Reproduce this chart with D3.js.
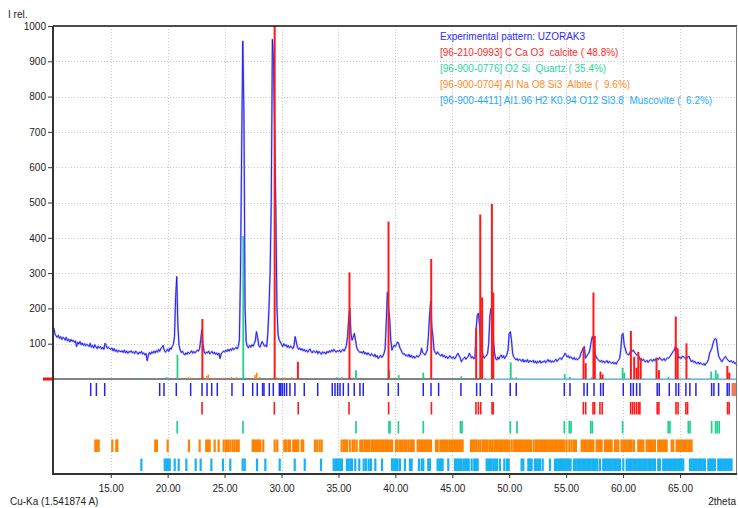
<!DOCTYPE html>
<html><head><meta charset="utf-8">
<script src="https://cdn.jsdelivr.net/npm/d3@7"></script>
<style>
body{margin:0;background:#fff}
svg{display:block;font-family:"Liberation Sans",Arial,sans-serif}
</style>
</head><body><svg id="c" width="738" height="508"></svg>
<script>
// ---------- DATA ----------
const thetaStart = 10.0, thetaStep = 0.1;
// experimental pattern, 2theta 10.0 .. 70.0 step 0.1 (one row per degree)
const intensity = [
145,128,122,118,124,115,120,112,118,116,
110,118,108,113,105,112,107,110,104,108,
92,104,99,106,97,102,95,100,94,98,
96,92,101,90,95,88,97,91,86,93,
88,92,85,90,84,101,95,87,90,86,
84,88,80,86,78,83,76,81,79,77,
80,75,82,74,79,73,78,76,80,74,
77,72,79,75,70,76,73,78,71,74,
68,72,52,66,75,70,77,73,79,74,
80,76,84,78,86,90,95,82,76,79,
85,78,88,84,92,98,120,230,290,150,
96,82,75,79,72,68,74,70,76,72,
75,80,73,78,74,77,82,79,85,110,
139,100,78,72,76,74,79,71,75,78,
72,76,70,74,68,73,58,71,75,79,
76,82,78,84,79,85,81,88,83,86,
90,85,92,110,300,650,957,753,200,105,
92,88,95,90,97,93,100,108,134,118,
95,90,98,106,100,93,96,91,130,200,
300,500,962,900,700,488,200,125,110,105,
98,92,100,94,97,90,95,88,93,90,
86,95,120,105,90,84,88,82,86,80,
84,78,82,76,80,85,78,74,80,77,
75,80,72,78,74,70,77,73,76,71,
78,74,80,76,82,78,84,79,76,80,
78,82,76,80,84,79,86,95,120,170,
200,130,110,118,129,110,90,82,78,75,
77,73,79,71,75,69,74,70,66,72,
68,64,70,62,66,58,63,67,61,65,
72,85,158,245,200,172,110,82,90,96,
92,98,105,100,88,82,75,70,72,66,
68,64,70,62,67,60,65,59,63,66,
62,66,70,87,75,72,68,74,82,120,
177,219,148,120,82,75,70,77,72,68,
65,70,63,67,60,64,58,62,66,60,
59,63,57,61,68,73,66,60,49,55,
58,62,56,60,64,73,66,59,63,57,
62,144,181,186,150,110,82,66,59,64,
66,72,101,177,200,162,115,77,58,54,
62,56,64,68,60,66,58,63,70,82,
129,134,110,73,62,59,54,58,52,56,
54,50,56,48,53,49,55,47,52,50,
49,53,46,51,44,50,47,52,45,49,
48,52,46,50,55,49,53,47,51,48,
52,56,50,54,58,59,55,62,66,73,
68,62,66,59,63,59,56,61,55,58,
54,58,62,73,80,87,92,59,64,70,
73,85,106,120,110,77,66,59,55,52,
49,53,47,51,46,49,52,45,50,47,
44,48,43,47,42,49,53,58,82,125,
129,96,85,73,70,68,75,82,78,82,
76,72,68,70,64,54,58,52,56,50,
49,53,47,51,55,54,50,56,52,58,
59,55,61,57,53,54,58,52,56,60,
59,63,68,73,78,82,92,87,70,59,
62,58,64,64,60,57,59,63,64,55,
49,53,47,50,45,44,48,42,46,43,
40,44,39,44,48,55,73,80,87,101,
110,115,112,85,64,58,52,49,56,60,
64,58,54,51,49,52,47,50,44,46,
38];

// calcite reference lines
const calcitePos = [23.05,29.40,31.44,35.97,39.40,43.15,47.10,47.46,47.62,48.48,48.60,56.53,56.72,57.40,57.52,58.02,58.20,60.69,60.98,61.19,61.34,61.55,62.94,63.15,64.63,64.80,65.57,69.16,69.33];
const calciteInt = [170,1000,49,302,446,340,144,466,231,496,245,90,45,245,122,21,13,136,63,32,77,59,59,25,177,87,101,37,18];
// quartz reference lines
const quartzPos = [20.86,26.64,36.54,39.47,40.29,42.45,45.79,50.14,50.62,54.87,55.33,57.24,59.96,60.10,63.99,65.79,67.74,68.14,68.31];
const quartzInt = [68,405,25,25,11,18,8,47,5,14,6,5,32,18,6,3,21,25,15];
// albite small reference lines
const albitePos = [13.77,15.37,19.04,20.06,21.81,21.96,23.13,23.43,23.57,24.10,25.60,26.06,27.67,27.82,28.10,29.60,30.30,30.89,35.30,36.30,42.50,47.90,50.30];
const albiteInt = [2,2,3,3,5,4,5,8,12,4,6,5,11,18,6,5,4,5,6,4,5,3,4];
// muscovite small reference lines
const muscovitePos = [17.70,19.80,19.95,26.80,34.85,35.00,36.50,45.00];
const muscoviteInt = [3,4,5,4,5,3,3,2];
const muscoviteBand = [47.5, 70.0];

// peak marker rows
const expTicks = [13.24,13.74,14.47,19.30,19.68,20.76,22.02,23.02,23.46,23.87,24.36,25.65,26.64,27.47,27.87,28.34,28.46,28.93,29.28,29.81,29.93,30.07,30.25,30.45,30.74,31.18,32.00,33.18,34.46,34.70,34.93,35.14,35.43,35.87,36.39,36.89,37.18,39.38,40.26,42.45,43.13,43.80,45.76,47.14,47.46,48.46,50.09,50.62,54.84,55.34,56.57,56.86,57.45,58.03,58.26,60.02,60.67,60.90,61.19,61.48,63.00,63.18,64.06,64.65,64.88,65.52,65.87,66.40,67.78,67.98,68.39,69.15,69.32];
const calciteTicks = [23.02,29.37,31.47,35.93,39.41,43.17,47.08,47.29,47.50,48.49,48.60,56.51,56.72,57.36,57.50,57.97,58.17,60.67,60.84,61.01,61.19,61.37,61.48,63.00,63.15,64.65,64.83,65.52,65.67,69.18,69.32];
const quartzTicks = [20.84,26.62,36.54,39.44,39.53,40.27,42.45,45.72,45.85,50.10,50.68,54.84,55.28,55.43,57.16,57.30,59.96,63.97,64.12,65.73,65.88,67.78,68.13,68.28,68.45];
const albiteTicks = [13.65,13.79,13.94,15.14,15.49,15.58,18.91,19.06,20.00,21.87,22.81,23.39,23.54,23.69,24.13,24.48,24.92,25.12,25.29,25.50,25.71,25.89,26.09,26.24,27.47,27.56,27.70,27.85,28.00,28.14,28.40,29.40,29.63,30.25,30.39,30.60,30.74,31.03,31.18,31.33,31.47,31.77,31.91,32.94,33.14,33.35,33.53,35.28,35.46,35.60,35.75,36.00,36.25,36.40,36.60,36.92,37.07,37.27,37.42,37.60,37.74,37.95,38.10,38.24,38.39,38.54,38.68,38.83,38.97,39.12,39.26,39.41,39.56,39.71,40.05,40.20,40.41,40.58,40.78,40.93,41.13,41.31,41.46,41.61,41.96,42.10,42.25,42.40,42.54,42.69,42.84,42.98,43.13,43.57,43.72,43.95,44.10,44.24,44.38,44.53,44.73,44.88,45.03,45.17,45.32,45.47,45.61,45.76,45.91,46.64,46.79,46.93,47.08,47.28,47.46,47.67,47.81,47.96,48.11,48.31,48.49,48.69,48.84,48.99,49.13,49.28,49.43,49.57,49.72,49.86,50.01,50.22,50.44,50.59,50.74,50.88,51.03,51.18,51.32,51.47,51.62,51.76,51.91,52.15,52.35,52.50,52.64,52.79,52.94,53.08,53.23,53.38,53.52,53.67,53.82,53.96,54.11,54.26,54.40,54.55,54.69,54.84,55.04,55.28,55.48,55.69,55.86,56.36,56.51,56.65,56.80,56.95,57.09,57.24,57.39,57.68,57.83,57.97,58.12,58.41,58.56,58.70,58.85,59.00,59.29,59.43,59.58,59.87,60.02,60.17,60.31,60.46,60.61,60.75,60.96,61.34,61.48,61.63,61.78,62.07,62.22,62.36,62.51,62.66,62.80,63.09,63.24,63.39,63.53,63.68,63.83,64.27,64.41,64.71,64.85,65.00,65.14,65.29,65.44,65.58,65.73,65.88,66.02];
const muscoviteTicks = [17.69,19.74,19.88,20.03,20.18,20.62,20.97,21.64,22.46,22.90,23.84,24.86,25.50,26.59,26.77,27.85,28.58,29.84,31.16,32.04,33.47,34.58,34.73,34.88,35.02,35.16,35.31,35.75,35.90,36.05,36.19,36.48,36.83,37.22,37.42,37.66,37.86,38.24,38.83,39.71,39.76,39.91,40.05,40.20,40.41,40.84,41.28,41.43,42.07,42.31,42.45,42.89,43.04,43.71,43.86,44.01,44.15,44.65,45.24,45.38,45.53,45.68,45.82,46.00,46.14,46.29,46.44,46.70,46.93,47.08,47.23,48.02,48.16,48.31,48.46,48.63,48.78,48.93,49.19,49.57,49.80,49.95,51.09,51.24,51.68,51.82,51.97,52.26,52.41,52.56,52.70,52.94,53.58,54.02,54.17,54.31,54.46,54.60,54.66,54.81,54.96,55.10,55.25,55.39,55.69,55.83,55.98,56.13,56.27,56.42,56.57,56.71,56.86,57.01,57.15,57.30,57.44,57.59,57.74,57.97,58.26,58.41,58.56,58.70,58.85,58.99,59.14,59.29,59.43,59.58,59.73,60.02,60.31,60.46,60.61,60.75,60.90,61.04,61.19,61.34,61.48,61.63,61.78,61.92,62.07,62.22,62.36,62.51,62.66,62.80,63.09,63.24,63.53,63.68,63.83,63.97,64.12,64.27,64.41,64.56,64.70,64.85,65.00,65.14,65.29,65.88,66.02,66.17,66.31,66.46,66.61,66.75,66.90,67.05,67.19,67.49,67.63,67.78,67.92,68.07,68.36,68.51,68.66,68.80,68.95,69.10,69.24,69.39,69.53];

const xTicks = [15,20,25,30,35,40,45,50,55,60,65];
const yTicks = [100,200,300,400,500,600,700,800,900,1000];
const legendLines = [
  "Experimental pattern: UZORAK3",
  "[96-210-0993] C Ca O3  calcite ( 48.8%)",
  "[96-900-0776] O2 Si  Quartz ( 35.4%)",
  "[96-900-0704] Al Na O8 Si3  Albite (  9.6%)",
  "[96-900-4411] Al1.96 H2 K0.94 O12 Si3.8  Muscovite (  6.2%)"
];

// ---------- STYLE ----------
const C = {exp:"#1414f2", expLight:"#9a9aff", cal:"#ff1a1a", qtz:"#1fd18e", alb:"#ff8200", mus:"#17b2f3"};
const legendColors = ["#2a2aff", "#ff2a2a", "#2ed49a", "#ff8a2a", "#27a8ff"];

const svg = d3.select("#c");
const L = 53, R = 737, T = 26, BASE = 379, B = 474;
const x = d3.scaleLinear().domain([10, 70]).range([53.8, 736.9]);
const y = d3.scaleLinear().domain([0, 1000]).range([BASE, T]);

// grid
const grid = svg.append("g").attr("stroke", "#c9c9c9").attr("stroke-dasharray", "1,2").attr("stroke-width", 1);
grid.selectAll(".gh").data(yTicks.filter(d => d < 1000)).join("line")
  .attr("x1", L).attr("x2", R).attr("y1", d => Math.round(y(d)) + 0.5).attr("y2", d => Math.round(y(d)) + 0.5);
grid.selectAll(".gv").data(xTicks).join("line")
  .attr("y1", T).attr("y2", B).attr("x1", d => Math.round(x(d)) + 0.5).attr("x2", d => Math.round(x(d)) + 0.5);

// baseline
svg.append("line").attr("x1", L).attr("x2", R).attr("y1", BASE).attr("y2", BASE)
  .attr("stroke", "#5a5a5a").attr("stroke-width", 1.6);
svg.append("line").attr("x1", x(muscoviteBand[0])).attr("x2", x(muscoviteBand[1]))
  .attr("y1", BASE - 0.3).attr("y2", BASE - 0.3).attr("stroke", "#8fd8ff").attr("stroke-width", 1.6);
svg.append("rect").attr("x", 43).attr("y", 377.5).attr("width", 10).attr("height", 3).attr("fill", "#ff1010");

function bars(pos, val, color, w) {
  svg.append("g").selectAll("line").data(pos).join("line")
    .attr("x1", d => x(d)).attr("x2", d => x(d))
    .attr("y1", BASE).attr("y2", (d, i) => y(val[i]))
    .attr("stroke", color).attr("stroke-width", w);
}
bars(albitePos, albiteInt, C.alb, 1.5);
bars(muscovitePos, muscoviteInt, C.mus, 1.5);
bars(quartzPos, quartzInt, C.qtz, 1.8);

// experimental pattern
const pts = intensity.map((v, i) => [thetaStart + i * thetaStep, v]);
const line = d3.line().x(d => x(d[0])).y(d => y(d[1]));
svg.append("path").datum(pts).attr("d", line).attr("fill", "none")
  .attr("stroke", C.expLight).attr("stroke-width", 1.9).attr("stroke-opacity", 0.8).attr("stroke-linejoin", "round");
svg.append("path").datum(pts).attr("d", line).attr("fill", "none")
  .attr("stroke", C.exp).attr("stroke-width", 0.9).attr("stroke-linejoin", "round");

bars(calcitePos, calciteInt, C.cal, 2);

// peak marker rows
function tickRow(pos, y0, y1, color, w) {
  svg.append("g").selectAll("line").data(pos).join("line")
    .attr("x1", d => x(d)).attr("x2", d => x(d)).attr("y1", y0).attr("y2", y1)
    .attr("stroke", color).attr("stroke-width", w);
}
tickRow(expTicks, 383, 396, "#2424ee", 1.5);
tickRow(calciteTicks, 402, 414.5, C.cal, 1.6);
tickRow(quartzTicks, 421, 433.5, C.qtz, 1.7);
tickRow(albiteTicks, 439.5, 452, C.alb, 2.2);
tickRow(muscoviteTicks, 458.5, 471, C.mus, 2.2);
svg.append("rect").attr("x", 731.5).attr("y", 383).attr("width", 5).attr("height", 13).attr("fill", "#f07a5a");

// frame
svg.append("line").attr("x1", L).attr("x2", R).attr("y1", T).attr("y2", T).attr("stroke", "#111").attr("stroke-width", 1.5);
svg.append("line").attr("x1", R - 0.5).attr("x2", R - 0.5).attr("y1", T).attr("y2", B).attr("stroke", "#777").attr("stroke-width", 1);
svg.append("line").attr("x1", L).attr("x2", L).attr("y1", T).attr("y2", B + 1).attr("stroke", "#333").attr("stroke-width", 2);
svg.append("line").attr("x1", L).attr("x2", R).attr("y1", B).attr("y2", B).attr("stroke", "#333").attr("stroke-width", 2);

// axes
const yAxis = svg.append("g").attr("transform", `translate(${L},0)`)
  .call(d3.axisLeft(y).tickValues(yTicks).tickSize(5).tickPadding(2).tickFormat(d3.format("d")));
yAxis.select(".domain").remove();
yAxis.selectAll("line").attr("stroke", "#333");
yAxis.selectAll("text").attr("font-size", 10).attr("fill", "#222").attr("font-family", "Liberation Sans, Arial, sans-serif");

const xAxis = svg.append("g").attr("transform", `translate(0,${B})`)
  .call(d3.axisBottom(x).tickValues(xTicks).tickSize(4).tickPadding(7).tickFormat(d => d.toFixed(2)));
xAxis.select(".domain").remove();
xAxis.selectAll("line").attr("stroke", "#333");
xAxis.selectAll("text").attr("font-size", 10).attr("fill", "#222").attr("font-family", "Liberation Sans, Arial, sans-serif");

// labels
svg.append("text").attr("x", 8).attr("y", 18).attr("font-size", 10).attr("fill", "#222").text("I rel.");
svg.append("text").attr("x", 10).attr("y", 505).attr("font-size", 10).attr("fill", "#222").text("Cu-Ka (1.541874 A)");
svg.append("text").attr("x", 736).attr("y", 505).attr("text-anchor", "end").attr("font-size", 10).attr("fill", "#222").text("2theta");

// legend
svg.append("g").selectAll("text").data(legendLines).join("text")
  .attr("x", 440).attr("y", (d, i) => 39.5 + i * 16.1)
  .attr("font-size", 10).attr("fill", (d, i) => legendColors[i])
  .style("white-space", "pre").attr("xml:space", "preserve")
  .text(d => d);
</script>
</body></html>
